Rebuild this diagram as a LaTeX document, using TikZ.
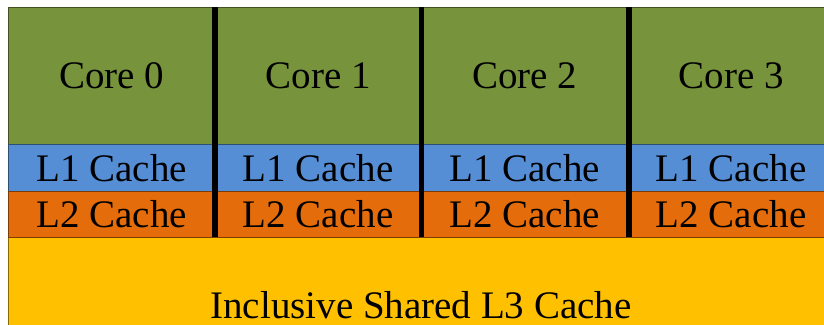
\documentclass[tikz,border=0pt]{standalone}
\usepackage{fontspec}
\setmainfont{Liberation Serif}
\definecolor{coregreen}{HTML}{77933C}
\definecolor{lonblue}{HTML}{558ED5}
\definecolor{ltwoorange}{HTML}{E46C0A}
\definecolor{lthreeyellow}{HTML}{FFC000}
\begin{document}
\begin{tikzpicture}[x=1pt,y=-1pt,
  cell/.style={draw=#1!55!black, line width=0.8pt, fill=#1, inner sep=0pt,
    anchor=north west, minimum width=206.5pt,
    font=\fontsize{39}{39}\selectfont},
  divider/.style={fill=black, draw=none}]
\useasboundingbox (0,0) rectangle (824,324);
\clip (0,0) rectangle (824,324);
% shared L3 band underneath the per-core columns
\node[cell=lthreeyellow, minimum width=826pt, minimum height=136pt] (l3) at (8,237) {};
\node[font=\fontsize{39}{39}\selectfont] (l3text) at (421,305) {Inclusive Shared L3 Cache};
% per-core columns: core, L1 and L2
\foreach \i/\x in {0/8, 1/214.5, 2/421, 3/627.5} {
  \node[cell=coregreen, minimum height=137pt] (core\i) at (\x,7) {Core \i};
  \node[cell=lonblue, minimum height=47pt] (lone\i) at (\x,144) {L1 Cache};
  \node[cell=ltwoorange, minimum height=46pt] (ltwo\i) at (\x,191) {L2 Cache};
}
% thick black separators between the cores
\foreach \x in {215, 421.5, 629} {
  \fill[divider] (\x-2.8,7) rectangle (\x+2.8,237);
}
\end{tikzpicture}
\end{document}
